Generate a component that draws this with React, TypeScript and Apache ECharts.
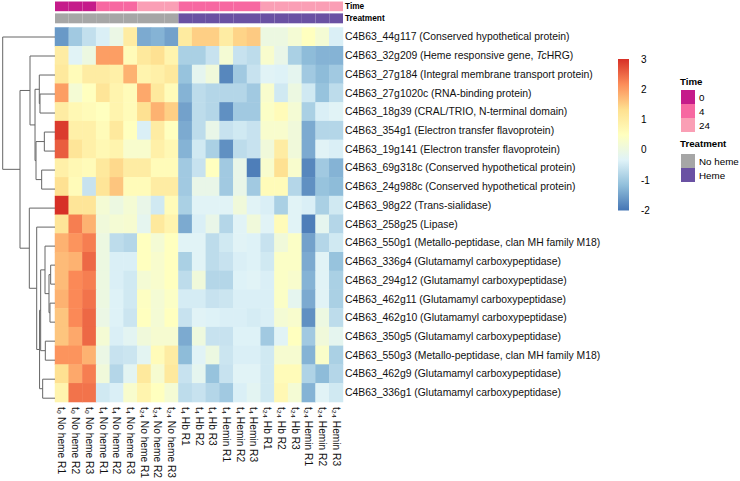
import React, { useEffect, useRef } from 'react';
import * as echarts from 'echarts';

const FONT = "'Liberation Sans', Arial, Helvetica, sans-serif";

// Genes (rows, top to bottom in dendrogram order)
const rowLabels = [
  'C4B63_44g117 (Conserved hypothetical protein)',
  'C4B63_32g209 (Heme responsive gene, TcHRG)',
  'C4B63_27g184 (Integral membrane transport protein)',
  'C4B63_27g1020c (RNA-binding protein)',
  'C4B63_18g39 (CRAL/TRIO, N-terminal domain)',
  'C4B63_354g1 (Electron transfer flavoprotein)',
  'C4B63_19g141 (Electron transfer flavoprotein)',
  'C4B63_69g318c (Conserved hypothetical protein)',
  'C4B63_24g988c (Conserved hypothetical protein)',
  'C4B63_98g22 (Trans-sialidase)',
  'C4B63_258g25 (Lipase)',
  'C4B63_550g1 (Metallo-peptidase, clan MH family M18)',
  'C4B63_336g4 (Glutamamyl carboxypeptidase)',
  'C4B63_294g12 (Glutamamyl carboxypeptidase)',
  'C4B63_462g11 (Glutamamyl carboxypeptidase)',
  'C4B63_462g10 (Glutamamyl carboxypeptidase)',
  'C4B63_350g5 (Glutamamyl carboxypeptidase)',
  'C4B63_550g3 (Metallo-peptidase, clan MH family M18)',
  'C4B63_462g9 (Glutamamyl carboxypeptidase)',
  'C4B63_336g1 (Glutamamyl carboxypeptidase)',
];

// Samples (columns)
const colLabels = [
  't₀ No heme R1', 't₀ No heme R2', 't₀ No heme R3',
  't₄ No heme R1', 't₄ No heme R2', 't₄ No heme R3',
  't₂₄ No heme R1', 't₂₄ No heme R2', 't₂₄ No heme R3',
  't₄ Hb R1', 't₄ Hb R2', 't₄ Hb R3',
  't₄ Hemin R1', 't₄ Hemin R2', 't₄ Hemin R3',
  't₂₄ Hb R1', 't₂₄ Hb R2', 't₂₄ Hb R3',
  't₂₄ Hemin R1', 't₂₄ Hemin R2', 't₂₄ Hemin R3',
];

const colTime = ['0', '0', '0', '4', '4', '4', '24', '24', '24', '4', '4', '4', '4', '4', '4', '24', '24', '24', '24', '24', '24'];
const colTreatment = [
  'No heme', 'No heme', 'No heme', 'No heme', 'No heme', 'No heme', 'No heme', 'No heme', 'No heme',
  'Heme', 'Heme', 'Heme', 'Heme', 'Heme', 'Heme', 'Heme', 'Heme', 'Heme', 'Heme', 'Heme', 'Heme',
];

const timeLevels = ['0', '4', '24'];
const timeColors = ['#C51B8A', '#F768A1', '#FA9FB5'];
const treatmentLevels = ['No heme', 'Heme'];
const treatmentColors = ['#A6A6A6', '#6A51A3'];

// Row-scaled expression (z-scores), one array per gene
const zScores = [
  [-1.6, -1.0, -0.65, -0.4, -0.05, 1.0, -1.4, -1.3, -1.5, 1.05, 1.5, 1.5, 1.0, 1.45, 1.55, 0.0, 0.0, 0.2, 0.5, 0.2, -0.4],
  [1.0, -0.3, 0.0, 2.0, 2.0, 0.6, 1.1, 1.3, 0.8, -0.9, -0.9, -0.6, 0.2, -0.6, -0.7, 0.3, -0.1, -0.9, -1.2, -1.3, -1.3],
  [1.1, 0.6, 1.0, 1.0, 0.9, 1.8, 0.8, 0.9, 1.1, -1.1, -0.2, 0.1, -1.8, -1.0, -0.6, -0.3, -0.35, -0.2, -1.0, -1.2, -1.0],
  [2.0, 0.2, 0.5, 1.2, 0.8, 0.6, 1.9, 1.1, 0.6, -1.3, -0.7, -0.8, -0.8, -0.8, -1.0, 0.3, -0.5, 0.0, -0.5, -1.1, -0.7],
  [1.0, 0.7, 0.6, 0.5, 0.8, 0.6, 1.3, 1.8, 1.5, -1.5, -0.7, -0.8, -1.7, -1.0, -1.0, 0.4, 0.6, 0.2, -0.9, -0.4, -0.3],
  [2.9, 0.9, 0.9, 0.6, 1.1, 0.5, -0.4, 1.0, 0.5, -1.4, -0.7, -0.1, -0.6, -0.5, -0.6, 0.3, 0.3, 0.1, -1.4, -0.8, -0.8],
  [2.6, 1.2, 0.9, 0.7, 0.8, 0.3, 0.3, 0.9, 0.7, -1.3, -0.5, -0.9, -1.7, -0.7, -0.6, 0.1, 1.0, 0.1, -1.4, -0.3, -0.4],
  [0.9, 0.7, 0.6, 1.1, 1.4, 1.0, 1.0, 0.6, 0.6, -1.0, -0.6, 0.5, -1.0, -0.1, -1.9, 0.3, 1.3, 0.3, -1.8, -1.0, -1.3],
  [1.3, 0.6, -0.6, 1.2, 1.6, 0.6, 0.6, 1.0, 1.0, -1.0, -0.1, -0.1, -1.0, -0.1, -1.0, 0.6, 0.6, -0.8, -1.7, -1.1, -1.2],
  [3.0, 1.2, 1.2, 0.2, 0.0, 0.2, -0.1, -0.5, 0.6, -0.9, -0.3, -0.3, -0.3, 0.1, -0.3, -0.4, -0.9, -0.3, -0.4, -0.9, -0.5],
  [1.2, 2.3, 1.8, 0.1, 0.2, 0.25, -0.2, 1.1, 0.8, -1.4, -0.4, -0.1, -0.8, -0.3, 0.1, -0.3, 0.6, -0.3, -1.9, -0.2, -0.8],
  [1.8, 2.1, 2.3, 0.0, -0.7, -0.8, 0.5, 0.2, 0.5, -0.3, -0.3, -0.7, -0.5, -0.3, -0.35, -0.6, 0.1, 0.4, -1.5, -0.8, -0.5],
  [1.7, 1.8, 2.5, 0.0, -0.4, -0.4, 0.5, 0.3, 0.5, -0.9, -0.3, -0.7, -0.6, -0.4, -0.35, -0.5, 0.4, 0.4, -1.4, -0.3, -1.1],
  [1.7, 2.2, 2.3, 0.0, -0.4, -0.5, 0.2, 0.3, 0.5, -0.7, 0.1, -0.8, -0.8, -0.35, -0.3, -0.4, 0.4, 0.3, -1.3, -0.3, -0.9],
  [1.8, 2.2, 2.4, 0.0, -0.35, -0.5, 0.45, 0.2, 0.4, -0.45, -0.45, -0.6, -0.55, -0.4, -0.4, -0.4, 0.4, -0.2, -1.4, -0.3, -0.9],
  [1.6, 2.2, 2.5, -0.05, -0.35, -0.55, 0.5, 0.2, 0.5, -0.6, -0.3, -0.35, -0.4, -0.4, -0.45, -0.4, 0.2, 0.3, -1.7, 0.0, -0.7],
  [1.6, 1.9, 2.5, 0.2, -0.4, -0.25, 0.1, 0.25, 0.25, -1.4, 0.05, -0.6, -0.6, -0.35, -0.35, -1.0, -0.3, 0.5, -1.0, 0.1, -0.2],
  [2.1, 2.1, 1.8, -0.05, -0.6, -0.55, -0.25, 0.6, 1.0, -1.2, -0.3, 0.0, -0.55, -0.4, -0.4, -0.5, 0.25, 0.25, -1.3, 0.35, -0.9],
  [1.3, 1.9, 2.3, 0.1, -0.8, -0.25, 1.1, 0.25, 1.1, -0.6, -0.2, -1.1, -0.6, -0.3, -0.3, -0.5, 0.6, 0.6, -0.85, -1.2, -0.8],
  [0.8, 2.4, 2.4, -0.5, -0.4, 0.3, 0.8, 0.5, 0.2, -0.7, -0.6, -0.8, -1.0, -0.4, -0.25, -0.5, 0.7, 0.2, -1.3, -0.3, -0.5],
];

// Row clustering, hclust style: negative = leaf (-(row+1)), positive = earlier merge (1-based)
const rowMerges: [number, number, number][] = [
  [-4, -5, 2.87],
  [-3, 1, 3.0],
  [-6, -7, 2.04],
  [-8, -9, 2.55],
  [3, 4, 3.63],
  [2, 5, 3.82],
  [-2, 6, 4.78],
  [-13, -14, 0.83],
  [-15, -16, 0.96],
  [8, 9, 1.15],
  [-12, 10, 1.91],
  [-17, -18, 1.85],
  [11, 12, 2.74],
  [-19, -20, 2.36],
  [13, 14, 2.95],
  [-11, 15, 3.5],
  [-10, 16, 4.91],
  [7, 17, 6.69],
  [-1, 18, 10.0],
];

const colorScale = ['#4575B4', '#91BFDB', '#E0F3F8', '#FFFFBF', '#FEE090', '#FC8D59', '#D73027'];
const scaleMin = -2;
const scaleMax = 3;

function buildDendrogram() {
  const nodeY: number[] = [];
  const nodeH: number[] = [];
  const ref = (k: number) => (k < 0 ? { y: -k - 1, h: 0 } : { y: nodeY[k - 1], h: nodeH[k - 1] });
  return rowMerges.map(([a, b, h], i) => {
    const A = ref(a);
    const B = ref(b);
    nodeY[i] = (A.y + B.y) / 2;
    nodeH[i] = h;
    return [A.y, B.y, A.h, B.h, h];
  });
}

export default function App() {
  const ref = useRef<HTMLDivElement>(null);

  useEffect(() => {
    if (!ref.current) return;
    const chart = echarts.init(ref.current, null, { renderer: 'svg' });

    const heatData: number[][] = [];
    zScores.forEach((row, r) => row.forEach((v, c) => heatData.push([c, r, v])));

    const dendro = buildDendrogram();

    const gridTop = 27.5;
    const gridH = 380.2;
    const hmLeft = 55;
    const hmW = 288;

    const textColor = '#111';

    const stops = colorScale.map((color, i) => ({ offset: i / (colorScale.length - 1), color }));

    // Annotation legend (Time / Treatment)
    const legendX = 681;
    const sw = 14;
    const graphics: any[] = [];
    const title = (text: string, top: number) => ({
      type: 'text', left: 680, top,
      style: { text, fontSize: 9.7, fontWeight: 'bold', fontFamily: FONT, fill: '#000' },
    });
    const entry = (text: string, y: number) => ({
      type: 'text', x: legendX + sw + 4, y: y + sw / 2,
      style: { text, fontSize: 9.8, fontFamily: FONT, fill: '#000', verticalAlign: 'middle' },
    });
    graphics.push(title('Time', 76));
    timeLevels.forEach((lv, i) => {
      const y = 90 + i * sw;
      graphics.push({ type: 'rect', shape: { x: legendX, y, width: sw, height: sw }, style: { fill: timeColors[i] } });
      graphics.push(entry(lv, y));
    });
    graphics.push(title('Treatment', 138.5));
    treatmentLevels.forEach((lv, i) => {
      const y = 154 + i * sw;
      graphics.push({ type: 'rect', shape: { x: legendX, y, width: sw, height: sw }, style: { fill: treatmentColors[i] } });
      graphics.push(entry(lv, y));
    });

    const option: any = {
      animation: false,
      textStyle: { fontFamily: FONT },
      grid: [
        { left: hmLeft, top: gridTop, width: hmW, height: gridH },
        { left: 2.7, top: gridTop, width: hmLeft - 2.7, height: gridH },
        { left: hmLeft, top: 1.5, width: hmW, height: 9.7 },
        { left: hmLeft, top: 13.4, width: hmW, height: 9.9 },
        { left: 618, top: 59, width: 11, height: 151.5 },
      ],
      xAxis: [
        {
          type: 'category', gridIndex: 0, data: colLabels, position: 'bottom',
          axisLine: { show: false }, axisTick: { show: false }, splitLine: { show: false },
          axisLabel: { rotate: -90, interval: 0, margin: 5, fontSize: 10.2, fontFamily: FONT, color: textColor },
        },
        { type: 'value', gridIndex: 1, min: 0, max: 10, inverse: true, show: false },
        { type: 'category', gridIndex: 2, data: colLabels, show: false },
        { type: 'category', gridIndex: 3, data: colLabels, show: false },
        { type: 'value', gridIndex: 4, min: 0, max: 1, show: false },
      ],
      yAxis: [
        {
          type: 'category', gridIndex: 0, data: rowLabels, inverse: true, position: 'right',
          axisLine: { show: false }, axisTick: { show: false }, splitLine: { show: false },
          axisLabel: {
            interval: 0, margin: 2, fontSize: 10.4, fontFamily: FONT, color: textColor,
            formatter: (v: string) => v.replace('TcHRG', '{i|Tc}HRG'),
            rich: { i: { fontStyle: 'italic', fontSize: 10.4, fontFamily: FONT, color: textColor } },
          },
        },
        { type: 'value', gridIndex: 1, min: -0.5, max: rowLabels.length - 0.5, inverse: true, show: false },
        {
          type: 'category', gridIndex: 2, data: ['Time'], position: 'right',
          axisLine: { show: false }, axisTick: { show: false },
          axisLabel: { margin: 2, fontSize: 8.3, fontWeight: 'bold', fontFamily: FONT, color: '#000' },
        },
        {
          type: 'category', gridIndex: 3, data: ['Treatment'], position: 'right',
          axisLine: { show: false }, axisTick: { show: false },
          axisLabel: { margin: 2, fontSize: 8.3, fontWeight: 'bold', fontFamily: FONT, color: '#000' },
        },
        {
          type: 'value', gridIndex: 4, min: scaleMin, max: scaleMax, interval: 1, position: 'right',
          axisLine: { show: false }, axisTick: { show: false }, splitLine: { show: false },
          axisLabel: { margin: 12, fontSize: 10, fontFamily: FONT, color: '#000' },
        },
      ],
      visualMap: [
        {
          type: 'continuous', show: false, seriesIndex: 0, dimension: 2,
          min: scaleMin, max: scaleMax, inRange: { color: colorScale },
        },
      ],
      series: [
        {
          type: 'heatmap', xAxisIndex: 0, yAxisIndex: 0, data: heatData,
          itemStyle: { borderWidth: 0 },
          emphasis: { disabled: true },
        },
        {
          type: 'custom', xAxisIndex: 1, yAxisIndex: 1, data: dendro, silent: true,
          renderItem: (_p: any, api: any) => {
            const yA = api.value(0), yB = api.value(1), hA = api.value(2), hB = api.value(3), h = api.value(4);
            return {
              type: 'polyline',
              shape: { points: [api.coord([hA, yA]), api.coord([h, yA]), api.coord([h, yB]), api.coord([hB, yB])] },
              style: { stroke: '#666', lineWidth: 1, fill: null },
            };
          },
        },
        {
          type: 'custom', xAxisIndex: 2, yAxisIndex: 2, silent: true,
          data: colTime.map((_t, c) => [c, 0]),
          renderItem: (p: any, api: any) => {
            const pt = api.coord([api.value(0), 0]);
            const s = api.size([1, 1]);
            const color = timeColors[timeLevels.indexOf(colTime[p.dataIndex])];
            return {
              type: 'rect',
              shape: { x: pt[0] - s[0] / 2, y: pt[1] - s[1] / 2, width: s[0], height: s[1] },
              style: { fill: color },
            };
          },
        },
        {
          type: 'custom', xAxisIndex: 3, yAxisIndex: 3, silent: true,
          data: colTreatment.map((_t, c) => [c, 0]),
          renderItem: (p: any, api: any) => {
            const pt = api.coord([api.value(0), 0]);
            const s = api.size([1, 1]);
            const color = treatmentColors[treatmentLevels.indexOf(colTreatment[p.dataIndex])];
            return {
              type: 'rect',
              shape: { x: pt[0] - s[0] / 2, y: pt[1] - s[1] / 2, width: s[0], height: s[1] },
              style: { fill: color },
            };
          },
        },
        {
          type: 'custom', xAxisIndex: 4, yAxisIndex: 4, silent: true,
          data: [[0, scaleMin, 1, scaleMax]],
          renderItem: (_p: any, api: any) => {
            const a = api.coord([api.value(0), api.value(3)]);
            const b = api.coord([api.value(2), api.value(1)]);
            return {
              type: 'rect',
              shape: { x: a[0], y: a[1], width: b[0] - a[0], height: b[1] - a[1] },
              style: { fill: new echarts.graphic.LinearGradient(0, 1, 0, 0, stops) },
            };
          },
        },
      ],
      graphic: graphics,
    };

    chart.setOption(option);
    return () => chart.dispose();
  }, []);

  return (
    <div
      ref={ref}
      style={{ position: 'fixed', left: 0, top: 0, width: 740, height: 481, background: '#fff' }}
    />
  );
}
